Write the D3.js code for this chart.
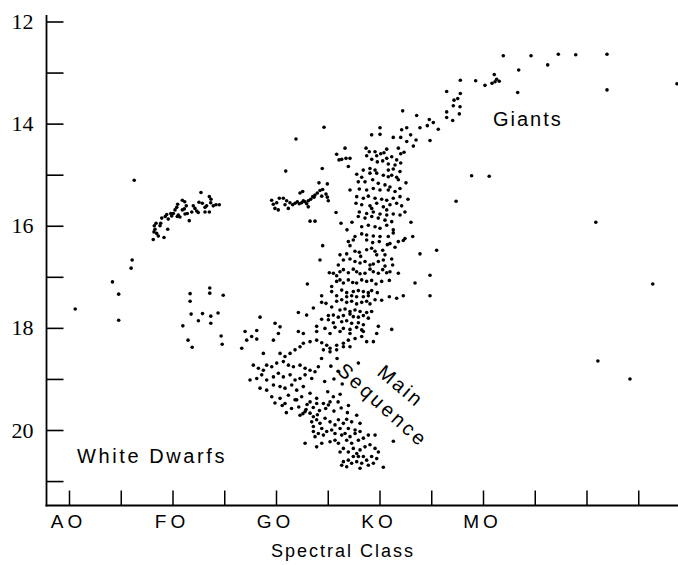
<!DOCTYPE html>
<html><head><meta charset="utf-8">
<script src="https://cdn.jsdelivr.net/npm/d3@7"></script>
<style>body{margin:0;background:#fff} svg{display:block}</style>
</head><body><svg id="c" width="678" height="565"></svg>
<script>
// ---- tick definitions ----
const magTicks = [12,13,14,15,16,17,18,19,20,21];
const magLabels = [12,14,16,18,20];
const spectralTicks = [0,5,10,15,20,25,30,35,40,45,50,55];
const spectralNames = ["AO","","FO","","GO","","KO","","MO","","",""];

// ---- data: [spectral subclass (A0=0, F0=10, G0=20, K0=30, M0=40), apparent magnitude] ----
const blueStars = [[0.6,17.63],[4.2,17.10],[4.8,17.34],[4.8,17.85],[6.0,16.83],[6.1,16.67],[6.3,15.11]];

const fClump = [[12.75,15.35],[13.56,15.43],[13.72,15.48],[10.95,15.50],[11.18,15.53],[11.33,15.61],[10.50,15.58],[10.41,15.64],[10.24,15.69],[10.08,15.76],[10.56,15.79],[10.72,15.83],[9.83,15.76],[9.44,15.78],[9.30,15.82],[9.59,15.87],[8.96,15.85],[8.86,15.95],[8.41,15.95],[8.79,16.00],[8.24,16.00],[8.31,16.07],[8.21,16.12],[8.47,16.15],[8.63,16.20],[8.14,16.27],[9.18,16.23],[9.54,16.07],[11.62,15.90],[11.21,15.77],[11.43,15.76],[11.86,15.73],[12.01,15.61],[12.17,15.66],[12.34,15.71],[12.49,15.74],[12.88,15.56],[13.14,15.64],[13.30,15.61],[13.69,15.55],[13.94,15.61],[14.20,15.59],[14.52,15.59],[13.56,15.73],[13.14,15.73],[12.56,15.54],[10.95,15.69],[11.14,15.67],[9.92,15.81],[10.46,15.82]];

const fGroup = [[11.7,17.33],[13.6,17.22],[13.6,17.32],[14.9,17.36],[11.7,17.48],[11.8,17.73],[12.9,17.72],[13.7,17.77],[14.4,17.71],[12.5,17.86],[13.7,17.91],[11.0,17.96],[14.7,18.16],[11.5,18.24],[14.8,18.32],[11.9,18.38]];

const subgiants = [[24.64,14.07],[21.93,14.30],[20.94,14.93],[24.47,14.88],[26.67,14.48],[25.86,14.60],[26.09,14.71],[26.35,14.70],[26.76,14.68],[27.15,14.68],[26.99,14.84],[24.15,15.16],[24.96,15.18],[24.51,15.29],[24.25,15.31],[23.99,15.36],[23.77,15.40],[23.55,15.43],[23.35,15.48],[23.12,15.51],[22.97,15.57],[22.80,15.53],[22.64,15.51],[22.48,15.55],[22.25,15.57],[22.06,15.53],[21.84,15.56],[21.61,15.59],[21.35,15.55],[21.03,15.51],[20.71,15.46],[20.32,15.46],[20.07,15.55],[19.74,15.58],[19.58,15.50],[19.90,15.66],[20.22,15.69],[20.87,15.59],[21.19,15.66],[22.58,15.33],[22.32,15.36],[24.83,15.38],[24.96,15.44],[25.05,15.51],[24.42,15.42],[23.67,15.44],[23.12,15.63],[23.29,15.91],[23.77,15.91],[25.80,15.74],[26.28,15.95]];

const giants = [[41.96,12.67],[44.64,12.67],[47.28,12.64],[48.96,12.65],[51.98,12.64],[46.25,12.85],[43.45,12.95],[43.35,13.39],[51.98,13.34],[58.74,13.22],[41.09,13.04],[41.32,13.13],[41.57,13.17],[41.16,13.18],[40.87,13.21],[40.19,13.25],[39.29,13.16],[37.81,13.15],[37.81,13.41],[37.56,13.51],[37.20,13.54],[37.13,13.65],[37.78,13.67],[37.71,13.81],[36.49,13.37],[36.49,13.77],[36.49,13.88],[37.07,13.94],[32.24,13.75],[33.59,13.84],[34.81,13.92],[35.20,13.98],[34.62,14.04],[35.68,14.11],[33.91,14.08],[32.63,14.08],[32.14,14.12],[33.01,14.22],[32.05,14.27],[31.33,14.27],[32.63,14.35],[33.53,14.32],[33.27,14.44],[34.88,14.33],[31.82,14.48],[30.70,14.50],[30.05,14.08],[30.05,14.21],[29.24,14.22]];

const msUpper = [[28.70,14.48],[29.01,14.55],[29.57,14.55],[29.73,14.63],[30.12,14.59],[30.43,14.57],[32.05,14.59],[32.37,14.56],[28.76,14.63],[29.25,14.70],[29.79,14.75],[30.31,14.73],[30.70,14.68],[31.18,14.65],[31.66,14.71],[32.05,14.77],[31.50,14.81],[30.85,14.79],[27.80,14.99],[28.28,15.05],[28.60,15.14],[29.08,14.97],[29.73,14.97],[30.37,15.01],[30.85,15.04],[31.18,15.01],[31.66,15.05],[27.95,15.14],[29.34,15.10],[29.88,15.17],[30.53,15.20],[31.01,15.24],[31.82,15.10],[28.05,15.28],[28.76,15.30],[29.40,15.27],[30.05,15.30],[30.85,15.30],[31.50,15.33],[31.98,15.27],[29.08,14.88],[29.57,14.91],[30.85,14.91],[31.33,14.89],[31.98,14.94],[28.43,14.91],[27.80,15.43],[28.44,15.46],[28.92,15.42],[29.57,15.46],[30.21,15.48],[30.70,15.50],[31.33,15.46],[31.98,15.43],[27.73,15.56],[28.28,15.59],[29.08,15.61],[29.73,15.56],[30.37,15.63],[31.01,15.59],[31.66,15.56],[32.14,15.61],[28.05,15.73],[28.76,15.76],[29.40,15.73],[30.05,15.77],[30.70,15.79],[31.33,15.77],[31.98,15.79],[29.25,15.66],[30.70,15.69],[27.95,15.82],[28.60,15.85],[29.25,15.82],[29.88,15.85],[30.53,15.89],[31.18,15.92],[28.28,16.02],[28.92,15.99],[29.57,16.02],[30.05,16.05],[30.70,15.99],[31.33,16.08],[27.63,16.21],[28.28,16.16],[28.76,16.18],[29.40,16.20],[30.05,16.21],[30.85,16.21],[31.33,16.14],[33.21,16.21],[32.46,16.25],[32.56,15.16],[32.75,15.48],[32.46,15.73],[33.04,15.93],[27.15,15.30],[27.34,15.93],[26.86,16.08]];

const msMiddle = [[26.99,16.31],[27.47,16.28],[28.76,16.28],[29.34,16.33],[29.98,16.31],[30.76,16.37],[31.01,16.35],[31.82,16.31],[32.30,16.29],[24.51,16.39],[27.15,16.39],[26.18,16.57],[26.83,16.55],[27.63,16.50],[28.05,16.52],[28.18,16.60],[28.76,16.47],[29.24,16.44],[29.57,16.50],[29.73,16.57],[30.31,16.48],[30.53,16.57],[31.50,16.42],[24.25,16.67],[26.02,16.77],[26.51,16.67],[27.15,16.65],[27.63,16.70],[28.12,16.73],[28.60,16.70],[29.08,16.77],[29.40,16.75],[29.89,16.70],[30.37,16.67],[31.18,16.65],[31.27,16.77],[30.53,16.79],[25.15,16.92],[25.54,16.93],[25.86,16.98],[26.18,16.90],[26.51,16.86],[26.99,16.92],[27.47,16.85],[27.79,16.90],[28.12,16.94],[28.60,16.93],[29.08,16.85],[29.40,16.90],[29.89,16.93],[30.31,16.86],[30.69,16.92],[31.01,16.90],[31.82,16.93],[25.38,17.19],[25.86,17.09],[26.18,17.06],[26.51,17.12],[26.99,17.06],[27.41,17.11],[27.79,17.12],[28.28,17.06],[28.76,17.09],[29.24,17.07],[29.66,17.14],[30.21,17.09],[30.95,17.07],[23.03,17.14],[25.38,17.29],[26.35,17.26],[26.83,17.31],[27.47,17.29],[27.96,17.27],[28.44,17.29],[28.92,17.31],[29.24,17.27],[29.79,17.31],[24.41,17.37],[25.86,17.37],[26.83,17.39],[27.31,17.37],[27.79,17.39],[28.44,17.39],[28.92,17.37],[30.95,17.39],[31.66,17.42],[32.30,17.37],[24.41,17.50],[24.83,17.52],[25.86,17.48],[26.35,17.45],[26.83,17.50],[27.31,17.48],[27.79,17.53],[28.28,17.50],[28.76,17.48],[29.08,17.53],[29.57,17.45],[30.21,17.46],[23.61,17.61],[25.38,17.59],[26.18,17.65],[26.67,17.63],[27.15,17.68],[27.63,17.65],[28.12,17.68],[28.76,17.70],[29.24,17.68],[22.96,17.75],[25.06,17.76],[25.54,17.75],[26.02,17.79],[26.51,17.76],[27.15,17.73],[27.47,17.78],[27.96,17.79],[28.44,17.76],[28.92,17.81],[24.41,17.83],[25.06,17.84],[25.54,17.90],[26.35,17.88],[26.83,17.86],[27.31,17.91],[27.96,17.90],[28.44,17.94],[29.89,17.97],[23.93,17.97],[24.73,18.01],[25.70,17.99],[26.51,18.01],[27.15,18.03],[27.79,17.99],[28.28,18.04],[31.18,18.03]];

const msTurn = [[18.46,17.79],[19.91,17.91],[20.39,17.98],[17.01,18.07],[18.14,18.05],[17.65,18.17],[17.17,18.24],[18.14,18.22],[16.69,18.40],[18.78,18.50],[19.75,18.24],[20.23,18.11],[22.16,18.07],[22.64,18.11],[22.16,17.70],[23.93,18.07],[25.22,18.11],[26.19,18.07],[27.15,18.11],[28.44,18.07],[29.73,18.11],[20.39,18.50],[20.87,18.56],[21.36,18.50],[21.84,18.43],[22.32,18.37],[22.64,18.30],[23.29,18.27],[23.93,18.24],[24.42,18.29],[24.90,18.34],[25.22,18.40],[25.86,18.34],[26.51,18.30],[26.99,18.24],[27.64,18.21],[28.28,18.17],[28.76,18.27],[29.41,18.27],[24.58,18.43],[25.22,18.47],[25.86,18.43],[26.51,18.37],[27.15,18.37],[17.81,18.73],[18.30,18.79],[18.78,18.83],[19.10,18.73],[19.59,18.76],[20.07,18.69],[20.71,18.66],[21.20,18.73],[21.68,18.76],[22.32,18.73],[22.81,18.79],[23.29,18.83],[23.77,18.86],[24.09,18.76],[17.49,19.02],[18.14,18.99],[18.62,18.92],[19.10,19.02],[19.75,18.96],[20.23,18.89],[20.71,18.96],[21.36,18.92],[21.84,19.02],[22.32,18.99],[22.81,18.92],[23.45,18.99],[18.46,19.18],[19.10,19.22],[19.75,19.12],[20.39,19.15],[20.87,19.18],[21.52,19.12],[22.00,19.22],[22.64,19.15],[23.29,19.28],[19.59,19.35],[20.39,19.38],[21.20,19.32],[21.84,19.41],[22.48,19.35],[23.29,19.45],[23.93,19.38],[24.58,19.48],[25.22,19.45],[20.87,19.48],[22.00,19.41],[23.93,19.48],[25.06,19.51],[25.54,19.35],[25.3,18.75],[26.0,18.85],[25.6,19.00],[26.4,19.10],[24.7,19.05],[25.0,19.25],[26.2,19.30],[24.4,18.60],[25.9,18.60]];

const msLower = [[20.6,19.52],[21.5,19.58],[22.2,19.55],[22.9,19.60],[23.6,19.56],[24.2,19.62],[24.8,19.58],[25.6,19.63],[26.3,19.57],[21.0,19.66],[22.6,19.68],[24.0,19.70],[26.9,19.66],[19.9,19.47],[23.0,19.50],[26.0,19.45],[27.0,19.52],[22.32,19.71],[22.81,19.64],[23.29,19.67],[23.61,19.74],[23.45,19.84],[23.93,19.80],[24.25,19.87],[24.74,19.77],[25.22,19.84],[25.70,19.90],[26.03,19.80],[26.51,19.87],[26.83,19.79],[27.31,19.84],[27.80,19.71],[28.12,19.87],[26.99,19.97],[27.64,20.00],[23.61,19.93],[23.61,20.03],[23.77,20.13],[24.09,20.07],[24.42,19.97],[24.58,20.10],[24.90,20.03],[25.38,20.00],[25.70,20.07],[26.19,19.97],[26.35,20.10],[26.67,20.07],[27.15,20.13],[27.64,20.07],[28.12,20.03],[22.81,20.26],[23.93,20.33],[24.42,20.26],[25.22,20.23],[25.70,20.20],[26.03,20.26],[26.83,20.20],[27.31,20.26],[27.96,20.20],[28.44,20.16],[28.92,20.10],[29.57,20.10],[26.19,20.43],[26.51,20.36],[26.99,20.43],[27.47,20.36],[27.80,20.46],[28.12,20.39],[28.60,20.33],[29.08,20.29],[29.57,20.36],[29.89,20.43],[28.44,20.52],[27.96,20.52],[27.47,20.52],[26.99,20.59],[26.51,20.62],[26.35,20.69],[26.83,20.72],[27.31,20.65],[27.80,20.62],[28.28,20.65],[28.12,20.75],[28.76,20.59],[29.24,20.52],[29.73,20.56],[29.41,20.65],[28.92,20.69],[30.37,20.73]];

const fieldStars = [[50.9,15.93],[56.4,17.14],[51.1,18.65],[54.2,19.00],[38.9,15.02],[40.6,15.03],[37.4,15.52],[31.34,20.22],[35.52,16.48],[34.88,16.97],[34.88,17.37],[33.91,16.55],[33.43,17.12],[27.96,18.69]];

// ---- scales ----
const svg = d3.select("#c");
const x = d3.scaleLinear().domain([0,55]).range([69,638.25]);
const y = d3.scaleLinear().domain([12,20]).range([21.5,430]);
const sans = "'Liberation Sans', Arial, Helvetica, sans-serif";
const serif = "'Liberation Serif', 'Times New Roman', serif";

// axis lines
svg.append("line").attr("x1",46.5).attr("x2",46.5).attr("y1",15).attr("y2",506.5)
  .attr("stroke","#000").attr("stroke-width",1.8);
svg.append("line").attr("x1",45.6).attr("x2",678).attr("y1",505.5).attr("y2",505.5)
  .attr("stroke","#000").attr("stroke-width",1.8);

// left axis
const gy = svg.append("g").attr("transform","translate(46.5,0)")
  .call(d3.axisLeft(y).tickValues(magTicks).tickSize(-17).tickPadding(13)
    .tickFormat(d => magLabels.includes(d) ? d : ""));
gy.select(".domain").remove();
gy.selectAll(".tick line").attr("stroke","#000").attr("stroke-width",1.6);
gy.selectAll(".tick text").attr("font-family",serif).attr("font-size",22).attr("fill","#000");

// bottom axis
const gx = svg.append("g").attr("transform","translate(0,505.5)")
  .call(d3.axisBottom(x).tickValues(spectralTicks).tickSize(-15).tickPadding(9)
    .tickFormat((d,i) => spectralNames[i]));
gx.select(".domain").remove();
gx.selectAll(".tick line").attr("stroke","#000").attr("stroke-width",1.5);
gx.selectAll(".tick text").attr("font-family",sans).attr("font-size",19)
  .attr("letter-spacing","4px").attr("fill","#000").attr("dx","-1px");

// points
const groups = [blueStars, fClump, fGroup, subgiants, giants, msUpper, msMiddle, msTurn, msLower, fieldStars];
svg.append("g").selectAll("g").data(groups).join("g")
  .selectAll("circle").data(d => d).join("circle")
  .attr("cx", d => x(d[0])).attr("cy", d => y(d[1])).attr("r", 1.8).attr("fill","#000");

// annotations
function label(txt, px, py, size, ls, rot, anchor) {
  const t = svg.append("text").text(txt).attr("font-family",sans).attr("font-size",size)
    .attr("letter-spacing",ls+"px").attr("fill","#000").attr("text-anchor",anchor||"start");
  if (rot) t.attr("transform",`translate(${px},${py}) rotate(${rot})`).attr("dominant-baseline","central");
  else t.attr("x",px).attr("y",py);
  return t;
}
label("Giants", 493, 126, 20, 2, 0);
label("White Dwarfs", 77, 463, 20, 2.6, 0);
label("Main", 401, 386, 20, 2.5, 40, "middle");
label("Sequence", 383, 405, 20, 3, 42, "middle");
label("Spectral Class", 343, 557, 18, 2, 0, "middle");
</script></body></html>
